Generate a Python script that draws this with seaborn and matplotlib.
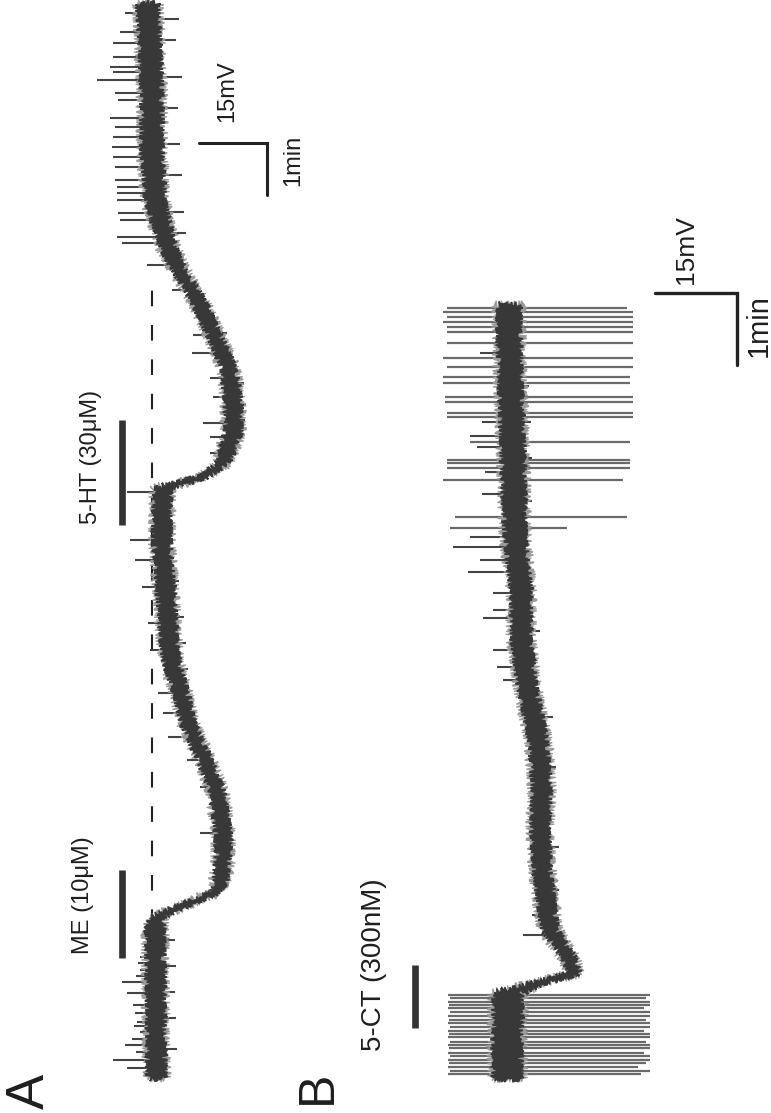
import numpy as np
import matplotlib
matplotlib.use("Agg")
import matplotlib.pyplot as plt
import seaborn as sns
import pandas as pd

sns.set_theme(style="white")
plt.rcParams["font.family"] = ["Liberation Sans", "DejaVu Sans"]

# ---------------- Panel A data (time in min, membrane potential in mV rel. to baseline) ----
a_time = [-0.05, 1.44, 2.79, 3.04, 3.23, 3.5, 3.69, 4.13, 4.65, 5.48, 6.12, 6.77, 7.40, 8.04,
          9.0, 10.23, 11.25, 11.31, 11.5, 11.77, 12.35, 12.98, 13.62, 14.27, 14.9, 15.54,
          15.92, 16.83, 17.79, 18.75, 19.71, 20.6]
a_vm = [-1.0, -0.8, -0.7, -1.1, -6.2, -13.5, -15.0, -15.7, -15.7, -14.3, -11.3, -7.9, -6.2, -4.0,
        -3.3, -2.2, -2.2, -2.9, -11.3, -15.7, -17.9, -17.9, -16.8, -13.5, -10.1, -5.7,
        -3.5, -0.7, 0.0, 0.0, 0.4, 0.9]
a_noise = [2.0, 2.0, 2.0, 1.4, 0.6, 0.8, 1.4, 1.6, 1.6, 1.6, 1.5, 1.5, 1.6, 1.8,
           1.9, 1.9, 1.9, 1.4, 0.6, 1.4, 1.8, 1.8, 1.6, 1.5, 1.5, 1.5,
           1.8, 2.2, 2.4, 2.4, 2.4, 2.4]
# depolarizing deflections (time, tip potential)
a_psp_t = [20.42, 20.06, 19.85, 19.58, 19.38, 19.29, 19.13, 18.88, 18.75, 18.40, 18.23, 18.04,
           17.85, 17.65, 17.46, 17.21, 17.08, 16.96, 16.83, 16.58, 16.44, 16.12, 16.0,
           15.58, 15.10, 14.23, 13.88, 13.40, 13.04, 12.54, 12.27, 11.96, 11.21, 10.29,
           9.90, 9.38, 8.69, 8.17, 7.35, 6.96, 6.50, 6.06, 5.54, 4.65,
           2.27, 2.15, 2.02, 1.90, 1.79, 1.58, 1.35, 1.20, 1.02, 0.95, 0.83, 0.70, 0.58,
           0.45, 0.29, 0.13]
a_psp_tip = [6.0, 7.1, 8.6, 8.6, 9.3, 8.6, 12.1, 8.2, 7.5, 9.3, 8.2, 8.6,
             8.8, 8.6, 8.2, 8.2, 7.7, 7.7, 7.7, 7.5, 7.1, 7.7, 6.6,
             1.1, -4.4, -9.0, -8.8, -12.8, -13.5, -11.3, -12.8, -12.8, 5.5, 4.9,
             3.75, 2.2, 0.9, 0.4, -1.3, -2.4, -3.5, -7.7, -10.6, -10.6,
             2.6, 3.0, 2.6, 3.5, 6.6, 5.5, 4.2, 3.8, 3.3, 4.0, 2.6, 4.5, 6.0,
             3.5, 8.6, 5.5]
# hyperpolarizing jags (time, tip potential)
a_neg_t = [20.3, 19.9, 19.2, 18.6, 17.9, 17.3, 16.6, 16.2, 14.27, 13.3, 12.9, 12.6,
           9.5, 8.8, 8.3, 7.8, 2.6, 2.1, 1.6, 1.1, 0.5]
a_neg_tip = [-6.0, -5.3, -6.6, -5.7, -6.2, -6.6, -7.0, -7.5, -16.5, -20.3, -20.7, -20.5,
             -6.0, -7.0, -7.5, -8.0, -5.0, -5.3, -5.0, -5.3, -5.5]
a_dash_t = [2.88, 15.35]
a_dash_vm = [0.0, 0.0]
me_bar_t = [2.25, 3.94]
ht_bar_t = [10.58, 12.60]
a_bar_vm = 6.7
a_scale_mv = 15
a_scale_min = 1

# ---------------- Panel B data ----------------
b_time = [-0.02, 1.17, 1.31, 1.44, 1.67, 2.04, 2.5, 2.97, 3.43, 3.99, 4.68, 5.38, 6.07,
          6.76, 7.46, 8.01, 8.71, 9.40, 10.1, 10.72]
b_vm = [0.0, -0.2, -6.0, -12.4, -11.2, -7.9, -7.0, -6.4, -6.0, -6.4, -5.7, -3.8, -2.6,
        -2.6, -1.5, -1.3, -1.1, -0.7, -0.4, -0.4]
b_noise = [2.8, 2.8, 0.7, 0.9, 1.2, 1.4, 1.6, 1.6, 1.6, 1.7, 1.7, 1.7, 1.8,
           1.9, 2.0, 2.1, 2.2, 2.2, 2.2, 2.2]
# action potentials (time, lower tip, upper tip)
b_ap_t = [1.14, 1.10, 1.04, 1.00, 0.96, 0.90, 0.85, 0.79, 0.75, 0.69, 0.64, 0.60,
          0.56, 0.49, 0.44, 0.40, 0.33, 0.29, 0.24, 0.19, 0.14, 0.08, 0.04,
          10.68, 10.63, 10.56, 10.49, 10.42, 10.35, 10.19, 9.99, 9.86, 9.72, 9.64, 9.44,
          9.38, 9.22, 9.17, 8.82, 8.57, 8.53, 8.46, 8.29, 7.78, 7.63]
b_ap_hi = [10.8, 10.4, 10.8, 10.6, 10.8, 10.4, 10.8, 10.6, 10.8, 10.4, 10.8, 10.6,
           10.8, 10.4, 10.8, 10.6, 10.8, 10.4, 10.8, 10.6, 10.8, 10.4, 10.8,
           11.0, 11.7, 11.0, 11.7, 11.0, 11.0, 11.0, 11.7, 11.0, 11.7, 11.7, 11.3,
           11.3, 11.0, 11.0, 6.8, 11.0, 11.0, 11.0, 11.7, 9.5, 10.4]
b_ap_lo = [-26.2, -25.5, -26.2, -26.2, -25.0, -26.2, -26.2, -25.5, -26.2, -26.2, -25.0, -26.2,
           -26.2, -25.5, -26.2, -26.2, -25.0, -26.2, -26.2, -25.5, -24.0, -26.2, -24.5,
           -21.9, -23.0, -23.0, -23.0, -23.0, -23.0, -23.0, -23.0, -23.0, -22.5, -22.5, -23.0,
           -23.0, -23.0, -23.0, -22.5, -22.5, -22.5, -22.5, -21.2, -21.9, -11.0]
b_psp_t = [10.05, 9.1, 8.9, 8.75, 8.4, 8.1, 7.5, 7.36, 7.18, 7.01, 6.72, 6.49, 6.38,
           5.93, 5.69, 5.51, 2.25, 1.97]
b_psp_tip = [5.0, 4.5, 6.8, 5.5, 4.0, 4.5, 6.8, 9.9, 4.9, 7.1, 2.6, 2.6, 4.4,
             2.6, 1.8, 0.7, -4.6, -2.9]
b_neg_t = [9.6, 9.1, 8.6, 8.0, 6.2, 5.0, 4.3, 3.2, 2.6]
b_neg_tip = [-4.0, -4.3, -4.5, -4.5, -6.0, -8.5, -9.0, -9.5, -9.5]
ct_bar_t = [0.68, 1.56]
b_bar_vm = 16.8
b_scale_mv = 15
b_scale_min = 1

# ---------------- figure ----------------
W, H, DPI = 771, 1113, 100
fig = plt.figure(figsize=(W / DPI, H / DPI), dpi=DPI)
fig.patch.set_facecolor("white")

TRACE = "#383838"
FRINGE = "#9a9a9a"
SPIKE = "#6a6a6a"
TXT = "#1e1e1e"


def make_axes(x0, y0, px_per_mv, px_per_min):
    ax = fig.add_axes([0, 0, 1, 1])
    ax.set_xlim(x0 / px_per_mv, (x0 - W) / px_per_mv)
    ax.set_ylim((y0 - H) / px_per_min, y0 / px_per_min)
    ax.axis("off")
    ax.patch.set_alpha(0)
    return ax


def band(ax, t, v, hw, color, sketch, z, lw=1.2):
    xs = np.concatenate([v - hw, (v + hw)[::-1]])
    ys = np.concatenate([t, t[::-1]])
    poly, = ax.fill(xs, ys, color=color, lw=lw, zorder=z)
    poly.set_sketch_params(*sketch)


def draw_trace(ax, t, v, hw, psp_t, psp_tip, neg_t, neg_tip):
    t = np.asarray(t); v = np.asarray(v); hw = np.asarray(hw)
    band(ax, t, v, hw * 0.95 + 0.3, FRINGE, (4.5, 1.4, 3.0), 2.5, lw=0.8)
    band(ax, t, v, hw * 0.85, TRACE, (3.5, 2.0, 3.0), 3)
    df = pd.DataFrame({"vm": v, "t": t})
    sns.lineplot(data=df, x="vm", y="t", orient="y", sort=False, estimator=None,
                 color=TRACE, lw=2.0, ax=ax, zorder=3)
    base = np.interp(psp_t, t, v)
    ax.hlines(psp_t, base, psp_tip, color="#444444", lw=1.5, zorder=2)
    base = np.interp(neg_t, t, v)
    ax.hlines(neg_t, base, neg_tip, color="#444444", lw=1.5, zorder=2)


# Panel A
axA = make_axes(152, 1075, 68 / 15, 52)
draw_trace(axA, a_time, a_vm, a_noise, a_psp_t, a_psp_tip, a_neg_t, a_neg_tip)
axA.plot(a_dash_vm, a_dash_t, color="#222222", lw=1.5, dashes=(7.5, 9), zorder=1)
axA.plot([a_bar_vm, a_bar_vm], me_bar_t, color="#333333", lw=4.8, solid_capstyle="butt")
axA.plot([a_bar_vm, a_bar_vm], ht_bar_t, color="#333333", lw=4.8, solid_capstyle="butt")
sx0, st0 = -10.4, 17.92
axA.plot([sx0, sx0 - a_scale_mv, sx0 - a_scale_mv], [st0, st0, st0 - a_scale_min],
         color="#222222", lw=2.2, solid_joinstyle="miter")
axA.text(15.2, 3.46, "ME (10\u03bcM)", rotation=90, ha="center", va="center",
         fontsize=17, color=TXT)
axA.text(13.5, 11.88, "5-HT (30\u03bcM)", rotation=90, ha="center", va="center",
         fontsize=17, color=TXT)
axA.text(-16.5, 18.92, "15mV", rotation=90, ha="center", va="center", fontsize=17, color=TXT)
axA.text(-31.1, 17.58, "1min", rotation=90, ha="center", va="center", fontsize=17, color=TXT)
axA.text(26.9, -0.31, "A", rotation=90, ha="center", va="center", fontsize=38,
         color=TXT, fontweight="light")

# Panel B
axB = make_axes(507, 1077, 82 / 15, 72)
axB.hlines(b_ap_t, b_ap_lo, b_ap_hi, color=SPIKE, lw=1.6, zorder=2)
draw_trace(axB, b_time, b_vm, b_noise, b_psp_t, b_psp_tip, b_neg_t, b_neg_tip)
axB.plot([b_bar_vm, b_bar_vm], ct_bar_t, color="#333333", lw=4.8, solid_capstyle="butt")
bx0, bt0 = -27.1, 10.89
axB.plot([bx0, bx0 - b_scale_mv, bx0 - b_scale_mv], [bt0, bt0, bt0 - b_scale_min],
         color="#222222", lw=2.4, solid_joinstyle="miter")
axB.text(24.3, 1.56, "5-CT (300nM)", rotation=90, ha="center", va="center",
         fontsize=20, color=TXT)
axB.text(-32.7, 11.49, "15mV", rotation=90, ha="center", va="center", fontsize=19, color=TXT)
axB.text(-46.1, 10.43, "1min", rotation=90, ha="center", va="center", fontsize=21, color=TXT)
axB.text(34.6, -0.15, "B", rotation=90, ha="center", va="center", fontsize=36,
         color=TXT, fontweight="light")

fig.savefig("out.png", dpi=DPI, facecolor="white")
